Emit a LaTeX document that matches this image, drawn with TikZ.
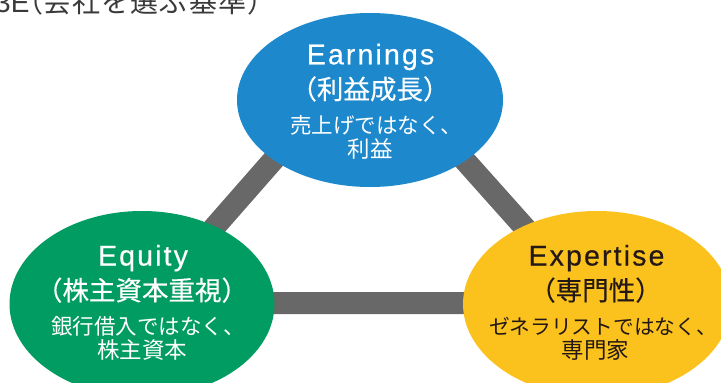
\documentclass[tikz,border=0pt]{standalone}
\usepackage{fontspec}
\setmainfont{Liberation Sans}
\newfontfamily\jp{Noto Sans CJK JP}
\newfontfamily\jpm[FakeBold=0.35]{Noto Sans CJK JP}
\newfontfamily\enls[LetterSpace=7.5,FakeBold=0.45]{Liberation Sans}
\usetikzlibrary{shapes.geometric}
\definecolor{eblue}{HTML}{1D89CC}
\definecolor{egreen}{HTML}{009C62}
\definecolor{eyellow}{HTML}{FBC21E}
\definecolor{bargray}{HTML}{686868}
\definecolor{darktext}{HTML}{231815}
\definecolor{titlegray}{HTML}{3A3A3A}
\tikzset{
  bar/.style={draw=bargray, line width=22pt, line join=miter},
  blob/.style={ellipse, inner sep=0pt, draw=none},
  entext/.style={font=\enls\fontsize{28.5}{30}\selectfont, inner sep=0pt, anchor=base},
  jpmid/.style={font=\jpm\fontsize{26.5}{28}\selectfont, inner sep=0pt, anchor=base},
  jpthird/.style={font=\jp\fontsize{21.5}{24}\selectfont, inner sep=0pt, anchor=base},
  jpsmall/.style={font=\jp\fontsize{22.5}{24}\selectfont, inner sep=0pt, anchor=base},
}
\begin{document}
\begin{tikzpicture}[x=1pt,y=-1pt]
\useasboundingbox (0,0) rectangle (721,383);
% triangle of bars
\coordinate (tv) at (368,52);
\coordinate (lv) at (148,303);
\coordinate (rv) at (592,303);
\draw[bar] (tv) -- (lv) -- (rv) -- cycle;
% ellipses
\node[blob, fill=eblue, minimum width=266pt, minimum height=174pt] (earn) at (370,100) {};
\node[blob, fill=egreen, minimum width=265pt, minimum height=186pt] (equi) at (142,304) {};
\node[blob, fill=eyellow, minimum width=268pt, minimum height=186pt] (expe) at (597,304) {};
% title
\node[font=\fontsize{28}{30}\selectfont, text=titlegray, inner sep=0pt, anchor=base west] (title) at (-5,12)
  {3E{\jp\addfontfeature{RawFeature={+halt}}（}{\jp\addfontfeature{LetterSpace=4} 会社を選ぶ基準）}};
% Earnings
\node[entext, text=white] (earnA) at (370.5,64.3) {Earnings};
\node[jpmid, text=white] (earnB) at (370,99) {（利益成長）};
\node[jpthird, text=white] (earnC) at (376,133.4) {売上げではなく、};
\node[jpsmall, text=white] (earnD) at (370,157.6) {利益};
% Equity
\node[entext, text=white] (equiA) at (143,265.5) {Equity};
\node[jpmid, text=white] (equiB) at (142,300.2) {（株主資本重視）};
\node[jpthird, text=white] (equiC) at (148,334.6) {銀行借入ではなく、};
\node[jpsmall, text=white] (equiD) at (142,358.8) {株主資本};
% Expertise
\node[entext, text=darktext] (expeA) at (596.5,265.5) {Expertise};
\node[jpmid, text=darktext] (expeB) at (595.5,300.2) {（専門性）};
\node[jpthird, text=darktext, font=\jp\fontsize{20.7}{24}\selectfont] (expeC) at (603,334.6) {ゼネラリストではなく、};
\node[jpsmall, text=darktext] (expeD) at (595.5,358.8) {専門家};
\end{tikzpicture}
\end{document}
